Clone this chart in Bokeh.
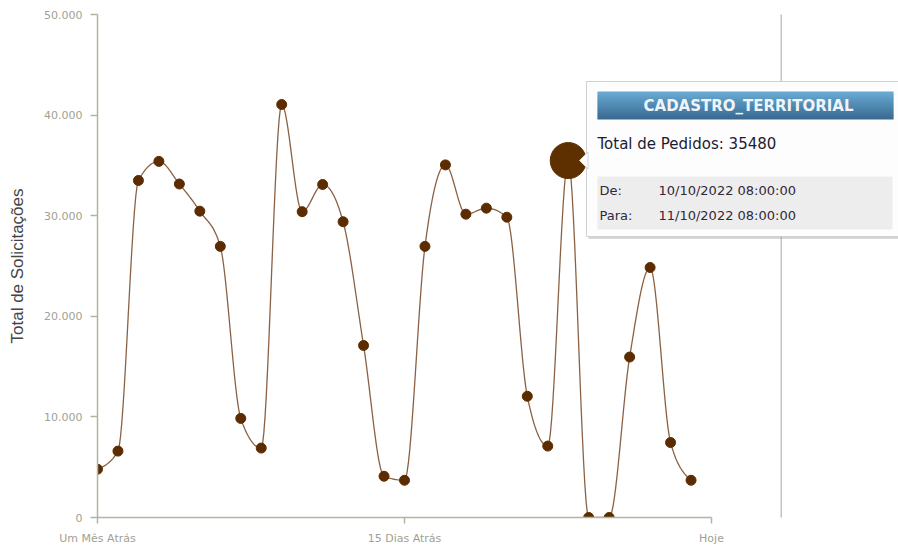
from bokeh.plotting import figure
from bokeh.models import Range1d, FixedTicker, BoxAnnotation, Label, PolyAnnotation
from bokeh.embed import file_html
from bokeh.resources import INLINE

# ---------------- data ----------------
days = list(range(30))
pedidos = [4800, 6600, 33500, 35400, 33150, 30450, 26950, 9850, 6900, 41050,
           30400, 33100, 29400, 17100, 4100, 3700, 26950, 35050, 30150, 30750,
           29850, 12050, 7100, 35480, 0, 0, 15950, 24850, 7450, 3700]
hover_index = 23
x_ticks = [0, 15, 30]
x_tick_labels = ["Um Mês Atrás", "15 Dias Atrás", "Hoje"]
y_ticks = [0, 10000, 20000, 30000, 40000, 50000]
y_tick_labels = ["0", "10.000", "20.000", "30.000", "40.000", "50.000"]
tooltip_title = "CADASTRO_TERRITORIAL"
tooltip_from = "10/10/2022 08:00:00"
tooltip_to = "11/10/2022 08:00:00"

# ---------------- smooth (monotone-x) path through the data ----------------
def sgn(v):
    return -1 if v < 0 else 1

def monotone_path(xs, ys, n=16):
    N = len(xs)
    h = [xs[i + 1] - xs[i] for i in range(N - 1)]
    s = [(ys[i + 1] - ys[i]) / h[i] for i in range(N - 1)]
    t = [0.0] * N
    for i in range(1, N - 1):
        s0, s1, h0, h1 = s[i - 1], s[i], h[i - 1], h[i]
        p_ = (s0 * h1 + s1 * h0) / (h0 + h1)
        t[i] = (sgn(s0) + sgn(s1)) * min(abs(s0), abs(s1), 0.5 * abs(p_))
    t[0] = (3 * s[0] - t[1]) / 2
    t[-1] = (3 * s[-1] - t[-2]) / 2
    px, py = [xs[0]], [ys[0]]
    for i in range(N - 1):
        x0, y0, x1, y1 = xs[i], ys[i], xs[i + 1], ys[i + 1]
        d = h[i] / 3
        c1x, c1y = x0 + d, y0 + d * t[i]
        c2x, c2y = x1 - d, y1 - d * t[i + 1]
        for k in range(1, n + 1):
            u = k / n
            a, b, c, e = (1 - u) ** 3, 3 * u * (1 - u) ** 2, 3 * u * u * (1 - u), u ** 3
            px.append(a * x0 + b * c1x + c * c2x + e * x1)
            py.append(a * y0 + b * c1y + c * c2y + e * y1)
    return px, py

# ---------------- layout constants (pixels of the page) ----------------
FIG_W, FIG_H = 898, 548
FRAME_L, FRAME_T, FRAME_B = 97, 14, 517
PX_PER_DAY = 614 / 30
PX_PER_UNIT = (FRAME_B - FRAME_T) / 50000
X_END = (FIG_W - FRAME_L) / PX_PER_DAY

def dx(page_x):
    return (page_x - FRAME_L) / PX_PER_DAY

def dy(page_y):
    return (FRAME_B - page_y) / PX_PER_UNIT

p = figure(width=FIG_W, height=FIG_H, x_range=Range1d(0, X_END), y_range=Range1d(0, 50000),
           output_backend="svg", toolbar_location=None, tools="",
           min_border_left=FRAME_L, min_border_right=0, min_border_top=FRAME_T,
           min_border_bottom=FIG_H - FRAME_B)
p.outline_line_color = None
p.grid.visible = False
p.background_fill_color = "white"
p.border_fill_color = "white"

axis_color = "#b3b2a3"
label_color = "#a29f92"

xa = p.xaxis[0]
xa.ticker = FixedTicker(ticks=x_ticks)
xa.major_label_overrides = {t: l for t, l in zip(x_ticks, x_tick_labels)}
xa.bounds = (0, 30)
xa.axis_line_color = axis_color
xa.axis_line_width = 1.5
xa.major_tick_line_color = axis_color
xa.major_tick_line_width = 1.5
xa.major_tick_out = 6
xa.major_tick_in = 0
xa.minor_tick_line_color = None
xa.major_label_standoff = 8
xa.major_label_text_font = "DejaVu Sans"
xa.major_label_text_font_size = "11px"
xa.major_label_text_color = label_color

ya = p.yaxis[0]
ya.ticker = FixedTicker(ticks=y_ticks)
ya.major_label_overrides = {t: l for t, l in zip(y_ticks, y_tick_labels)}
ya.bounds = (0, 50000)
ya.axis_line_color = axis_color
ya.axis_line_width = 1.5
ya.major_tick_line_color = axis_color
ya.major_tick_line_width = 1.5
ya.major_tick_out = 7
ya.major_tick_in = 0
ya.minor_tick_line_color = None
ya.major_label_standoff = 8
ya.major_label_text_font = "DejaVu Sans"
ya.major_label_text_font_size = "11px"
ya.major_label_text_color = label_color
ya.axis_label = "Total de Solicitações"
ya.axis_label_text_font = "Liberation Sans"
ya.axis_label_text_font_size = "17px"
ya.axis_label_text_font_style = "normal"
ya.axis_label_text_color = "#444444"
ya.axis_label_standoff = 14

# ---------------- series ----------------
sx, sy = monotone_path(days, pedidos)
p.line(sx, sy, line_color="#7d5030", line_width=1.3, line_alpha=0.9)
p.scatter(days, pedidos, size=10, fill_color="#5c2c00", line_color="#5c2c00")
p.scatter([days[hover_index]], [pedidos[hover_index]], size=36,
          fill_color="#5e3000", line_color="#5e3000")

# ---------------- divider line ----------------
p.add_layout(BoxAnnotation(left=dx(780), right=dx(781.5), top=dy(-10), bottom=dy(560),
                           fill_color="#c4c4c4", fill_alpha=1, line_color=None))

# ---------------- tooltip ----------------
p.add_layout(BoxAnnotation(left=dx(588), right=dx(905), top=dy(83), bottom=dy(238.5),
                           fill_color="#8a8a8a", fill_alpha=0.35, line_color=None))
p.add_layout(BoxAnnotation(left=dx(586), right=dx(905), top=dy(81), bottom=dy(236),
                           fill_color="#fdfdfd", fill_alpha=1, line_color="#d0d0d0",
                           line_alpha=1, line_width=1))

top_c = (0x67, 0xaa, 0xd3)
bot_c = (0x3a, 0x6a, 0x92)
n_strips = 14
for k in range(n_strips):
    f = k / (n_strips - 1)
    col = "#%02x%02x%02x" % tuple(int(round(a + (b - a) * f)) for a, b in zip(top_c, bot_c))
    y_top = 91 + k * 2
    y_bot = min(y_top + 3, 119)
    p.add_layout(BoxAnnotation(left=dx(597), right=dx(893), top=dy(y_top), bottom=dy(y_bot),
                               fill_color=col, fill_alpha=1, line_color=None))

p.add_layout(BoxAnnotation(left=dx(597), right=dx(892), top=dy(176), bottom=dy(229),
                           fill_color="#ededed", fill_alpha=1, line_color=None))

p.add_layout(PolyAnnotation(xs=[dx(579), dx(587.5), dx(587.5)], ys=[dy(160), dy(151.5), dy(168.5)],
                            fill_color="#fdfdfd", fill_alpha=1, line_color="#c8d6e4",
                            line_alpha=1, line_width=1))

p.add_layout(Label(x=dx(748), y=dy(105), text=tooltip_title, text_align="center",
                   text_baseline="middle", text_font="DejaVu Sans", text_font_style="bold",
                   text_font_size="15px", text_color="#eef4f9"))
p.add_layout(Label(x=dx(597), y=dy(143), text="Total de Pedidos: %d" % pedidos[hover_index],
                   text_align="left", text_baseline="middle", text_font="DejaVu Sans",
                   text_font_size="15px", text_color="#1c1c30"))
for txt, xp, yp in [("De:", 599, 190), (tooltip_from, 658, 190),
                    ("Para:", 599, 215), (tooltip_to, 658, 215)]:
    p.add_layout(Label(x=dx(xp), y=dy(yp), text=txt, text_align="left", text_baseline="middle",
                       text_font="DejaVu Sans", text_font_size="13px", text_color="#33283a"))

open("out.html", "w").write(file_html(p, INLINE))
